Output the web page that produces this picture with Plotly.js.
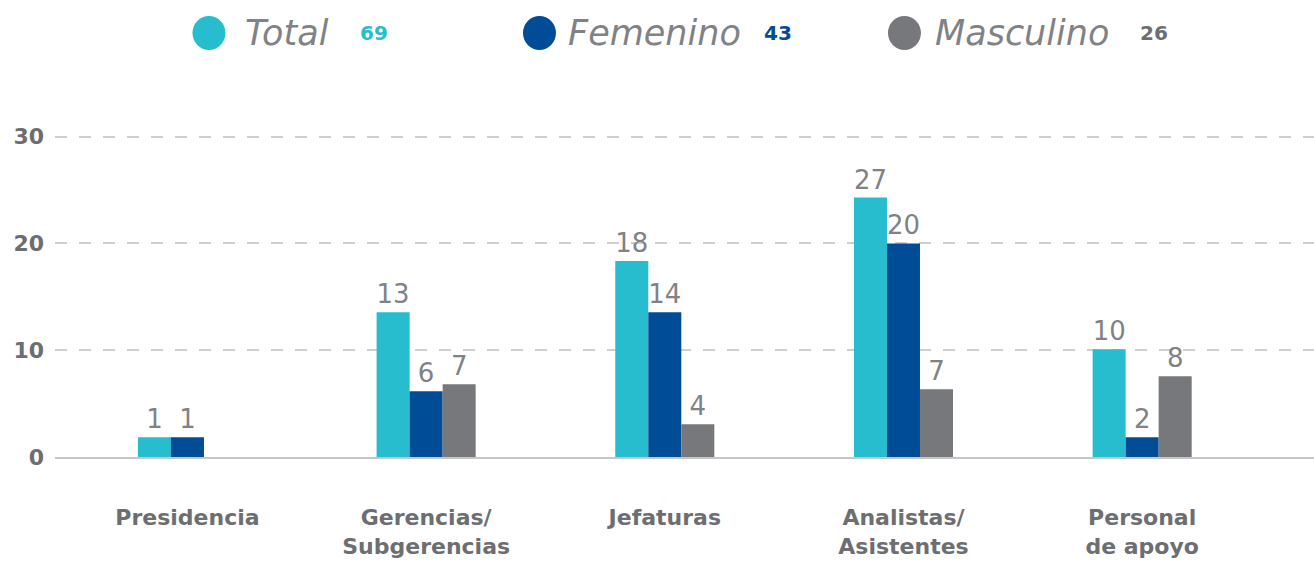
<!DOCTYPE html>
<html>
<head>
<meta charset="utf-8">
<script src="https://cdn.plot.ly/plotly-3.0.1.min.js"></script>
<style>html,body{margin:0;padding:0;background:#fff;}#chart{width:1314px;height:574px;}</style>
</head>
<body>
<div id="chart"></div>
<script>
// Categories
const categories = ['Presidencia', 'Gerencias/<br>Subgerencias', 'Jefaturas', 'Analistas/<br>Asistentes', 'Personal<br>de apoyo'];
// Bar heights as drawn in the picture
const totalHeights = [1.85, 13.56, 18.35, 24.3, 10.1];
const femeninoHeights = [1.85, 6.16, 13.56, 20.0, 1.85];
const masculinoHeights = [null, 6.81, 3.07, 6.35, 7.56];
// Printed value labels
const totalLabels = [1, 13, 18, 27, 10];
const femeninoLabels = [1, 6, 14, 20, 2];
const masculinoLabels = [null, 7, 4, 7, 8];
const seriesNames = ['Total', 'Femenino', 'Masculino'];
const yTicks = [0, 10, 20, 30];

const colors = ['#27BDCF', '#004C97', '#77787B'];
const numColors = ['#27BDCF', '#004C97', '#6d6e71'];
const labelGray = '#6d6e71';
const FONT = 'DejaVu Sans, Liberation Sans, sans-serif';

const sum = a => a.reduce((s, v) => s + (v || 0), 0);
const totals = [sum(totalLabels), sum(femeninoLabels), sum(masculinoLabels)];

function bar(name, y, labels, color) {
  return {
    type: 'bar', name: name, x: categories, y: y,
    text: labels.map(v => v == null ? '' : String(v)),
    texttemplate: '%{text}',
    textposition: 'outside', cliponaxis: false,
    textfont: {family: FONT, size: 26, color: '#808285'},
    marker: {color: color, line: {width: 0}},
    hoverinfo: 'skip', showlegend: false
  };
}

const data = [
  bar(seriesNames[0], totalHeights, totalLabels, colors[0]),
  bar(seriesNames[1], femeninoHeights, femeninoLabels, colors[1]),
  bar(seriesNames[2], masculinoHeights, masculinoLabels, colors[2])
];

// legend layout (paper positions)
const legY = 1.281;
const circX = [0.1223, 0.3848, 0.6747];
const nameX = [0.1493, 0.4059, 0.6974];
const numX = [0.2407, 0.5616, 0.8602];

const shapes = [], annotations = [];
for (let i = 0; i < 3; i++) {
  shapes.push({type: 'circle', xref: 'paper', yref: 'paper', xsizemode: 'pixel', ysizemode: 'pixel',
    xanchor: circX[i], yanchor: legY, x0: -16.5, x1: 16.5, y0: -17, y1: 17,
    fillcolor: colors[i], line: {width: 0}});
  annotations.push({xref: 'paper', yref: 'paper', x: nameX[i], y: legY, xanchor: 'left', yanchor: 'middle',
    text: seriesNames[i], showarrow: false,
    font: {family: FONT, size: 35, color: '#808285', style: 'italic'}});
  annotations.push({xref: 'paper', yref: 'paper', x: numX[i], y: legY, xanchor: 'left', yanchor: 'middle',
    text: String(totals[i]), showarrow: false,
    font: {family: FONT, size: 20, color: numColors[i], weight: 'bold'}});
}

const layout = {
  width: 1314, height: 574,
  margin: {l: 55, r: 0, t: 126, b: 117.3, pad: 0},
  paper_bgcolor: '#fff', plot_bgcolor: '#fff',
  barmode: 'group', bargap: 0.585, bargroupgap: 0,
  showlegend: false,
  xaxis: {type: 'category', range: [-0.555, 4.72], showgrid: false, zeroline: false,
    showline: true, linecolor: '#c6c6c6', linewidth: 2, ticks: '',
    ticklabelstandoff: 40,
    tickfont: {family: FONT, size: 22, color: labelGray, weight: 'bold'}},
  yaxis: {range: [0, 31], tickvals: yTicks, ticktext: yTicks.map(String),
    showgrid: true, gridcolor: '#cfcfcf', gridwidth: 2, griddash: '12px,12px',
    zeroline: false, showline: false, ticks: '', ticklabelstandoff: 10,
    tickfont: {family: FONT, size: 22, color: labelGray, weight: 'bold'}},
  shapes: shapes, annotations: annotations
};

Plotly.newPlot('chart', data, layout, {displayModeBar: false, staticPlot: true});
</script>
</body>
</html>
